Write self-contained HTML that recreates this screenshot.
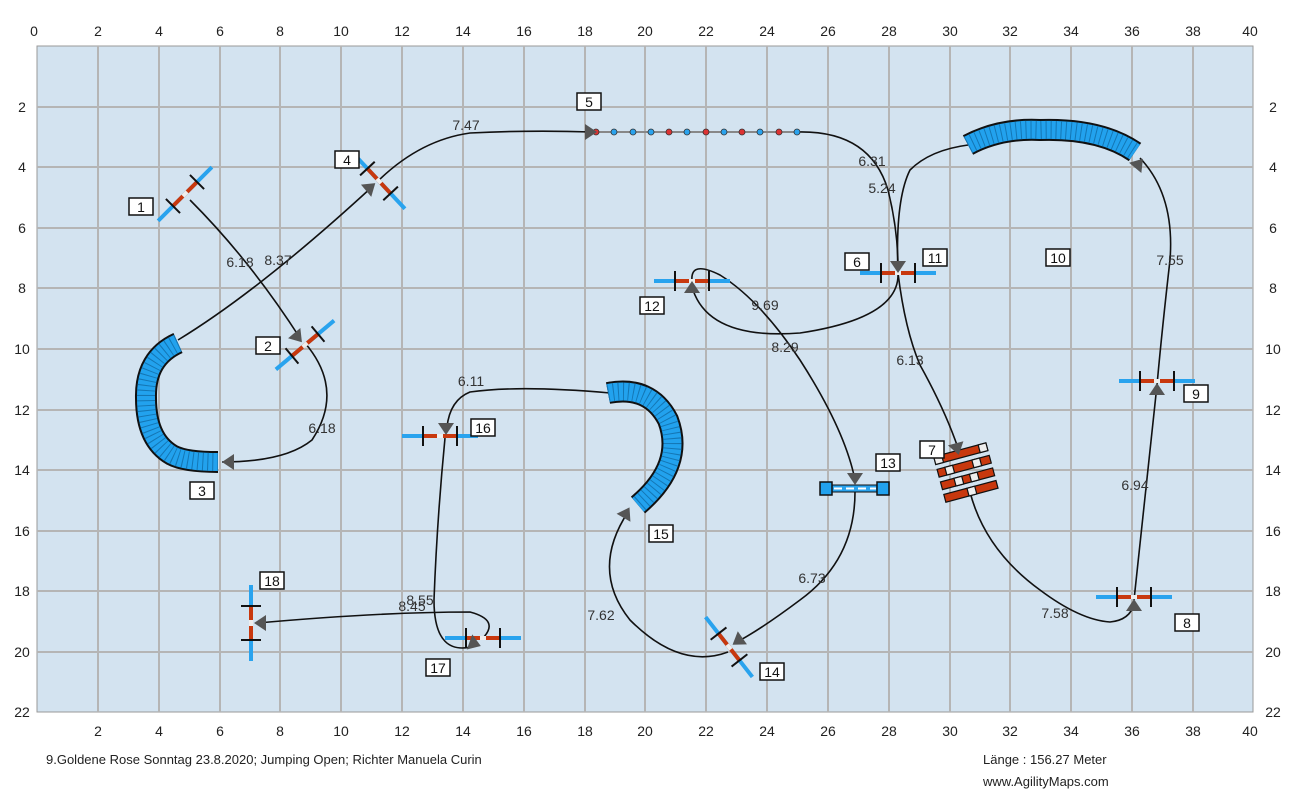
<!DOCTYPE html>
<html><head><meta charset="utf-8"><style>
html,body{margin:0;padding:0;background:#fff;}
svg{display:block;font-family:"Liberation Sans",sans-serif;}
</style></head><body>
<svg width="1300" height="801" viewBox="0 0 1300 801" xmlns="http://www.w3.org/2000/svg">
<defs>
<g id="jmp">
<line x1="-38" y1="0" x2="38" y2="0" stroke="#29a3ee" stroke-width="4"/>
<line x1="-17" y1="0" x2="17" y2="0" stroke="#c8380e" stroke-width="4"/>
<line x1="-3" y1="0" x2="3" y2="0" stroke="#eee" stroke-width="4"/>
<line x1="-17" y1="-10" x2="-17" y2="10" stroke="#111" stroke-width="2"/>
<line x1="17" y1="-10" x2="17" y2="10" stroke="#111" stroke-width="2"/>
</g>
<g id="arr"><polygon points="-8,-9 8,-9 0,3" fill="#555"/></g>
</defs>
<rect x="37" y="46" width="1216" height="666" fill="#d3e3f0" stroke="#999"/>
<g stroke="#b5b5b5" stroke-width="2">
<line x1="98" y1="46" x2="98" y2="712"/><line x1="159" y1="46" x2="159" y2="712"/><line x1="220" y1="46" x2="220" y2="712"/><line x1="280" y1="46" x2="280" y2="712"/><line x1="341" y1="46" x2="341" y2="712"/><line x1="402" y1="46" x2="402" y2="712"/><line x1="463" y1="46" x2="463" y2="712"/><line x1="524" y1="46" x2="524" y2="712"/><line x1="585" y1="46" x2="585" y2="712"/><line x1="645" y1="46" x2="645" y2="712"/><line x1="706" y1="46" x2="706" y2="712"/><line x1="767" y1="46" x2="767" y2="712"/><line x1="828" y1="46" x2="828" y2="712"/><line x1="889" y1="46" x2="889" y2="712"/><line x1="950" y1="46" x2="950" y2="712"/><line x1="1010" y1="46" x2="1010" y2="712"/><line x1="1071" y1="46" x2="1071" y2="712"/><line x1="1132" y1="46" x2="1132" y2="712"/><line x1="1193" y1="46" x2="1193" y2="712"/>
<line x1="37" y1="107" x2="1253" y2="107"/><line x1="37" y1="167" x2="1253" y2="167"/><line x1="37" y1="228" x2="1253" y2="228"/><line x1="37" y1="288" x2="1253" y2="288"/><line x1="37" y1="349" x2="1253" y2="349"/><line x1="37" y1="410" x2="1253" y2="410"/><line x1="37" y1="470" x2="1253" y2="470"/><line x1="37" y1="531" x2="1253" y2="531"/><line x1="37" y1="591" x2="1253" y2="591"/><line x1="37" y1="652" x2="1253" y2="652"/>
</g>
<g font-size="14" fill="#222" text-anchor="middle">
<text x="34" y="36">0</text><text x="98" y="36">2</text><text x="159" y="36">4</text><text x="220" y="36">6</text><text x="280" y="36">8</text><text x="341" y="36">10</text><text x="402" y="36">12</text><text x="463" y="36">14</text><text x="524" y="36">16</text><text x="585" y="36">18</text><text x="645" y="36">20</text><text x="706" y="36">22</text><text x="767" y="36">24</text><text x="828" y="36">26</text><text x="889" y="36">28</text><text x="950" y="36">30</text><text x="1010" y="36">32</text><text x="1071" y="36">34</text><text x="1132" y="36">36</text><text x="1193" y="36">38</text><text x="1250" y="36">40</text>
<text x="98" y="736">2</text><text x="159" y="736">4</text><text x="220" y="736">6</text><text x="280" y="736">8</text><text x="341" y="736">10</text><text x="402" y="736">12</text><text x="463" y="736">14</text><text x="524" y="736">16</text><text x="585" y="736">18</text><text x="645" y="736">20</text><text x="706" y="736">22</text><text x="767" y="736">24</text><text x="828" y="736">26</text><text x="889" y="736">28</text><text x="950" y="736">30</text><text x="1010" y="736">32</text><text x="1071" y="736">34</text><text x="1132" y="736">36</text><text x="1193" y="736">38</text><text x="1250" y="736">40</text>
<text x="22" y="112">2</text><text x="22" y="172">4</text><text x="22" y="233">6</text><text x="22" y="293">8</text><text x="22" y="354">10</text><text x="22" y="415">12</text><text x="22" y="475">14</text><text x="22" y="536">16</text><text x="22" y="596">18</text><text x="22" y="657">20</text><text x="22" y="717">22</text>
<text x="1273" y="112">2</text><text x="1273" y="172">4</text><text x="1273" y="233">6</text><text x="1273" y="293">8</text><text x="1273" y="354">10</text><text x="1273" y="415">12</text><text x="1273" y="475">14</text><text x="1273" y="536">16</text><text x="1273" y="596">18</text><text x="1273" y="657">20</text><text x="1273" y="717">22</text>
</g>
<!-- paths -->
<g fill="none" stroke="#111" stroke-width="1.6">
<path d="M190,200 Q250,260 300,338"/>
<path d="M305,343 Q345,390 312,440 Q285,462 222,462"/>
<path d="M178,340 Q260,290 373,186"/>
<path d="M378,181 Q420,140 470,133 Q530,130 592,132"/>
<path d="M797,132 Q870,130 888,190 Q898,230 898,268"/>
<path d="M898,273 Q900,318 800,333 Q710,340 693,290"/>
<path d="M692,281 Q690,260 720,275 Q760,300 800,360 Q845,430 855,480"/>
<path d="M855,492 Q855,560 800,600 Q760,630 735,643"/>
<path d="M728,652 Q680,670 630,620 Q590,570 628,512"/>
<path d="M610,393 Q520,385 470,392 Q450,400 447,427"/>
<path d="M445,438 Q437,520 434,600 Q434,660 478,645"/>
<path d="M483,638 Q500,620 470,612 Q380,612 258,623"/>
<path d="M898,273 Q895,200 910,170 Q930,150 968,145"/>
<path d="M1140,158 Q1175,195 1170,260 Q1162,330 1157,385"/>
<path d="M1157,385 Q1145,500 1134,600"/>
<path d="M898,273 Q905,330 920,365 Q945,410 958,448"/>
<path d="M970,492 Q985,550 1040,590 Q1080,620 1110,622 Q1130,620 1134,604"/>
</g>
<!-- tunnels -->
<g fill="none">
<path d="M178,343 Q145,358 146,398 Q146,440 172,455 Q185,462 218,462" stroke="#111" stroke-width="22"/>
<path d="M178,343 Q145,358 146,398 Q146,440 172,455 Q185,462 218,462" stroke="#22a2ee" stroke-width="18"/>
<path d="M178,343 Q145,358 146,398 Q146,440 172,455 Q185,462 218,462" stroke="#1476b4" stroke-width="18" stroke-dasharray="1 4"/>
<path d="M968,145 Q1000,128 1040,130 Q1100,128 1135,152" stroke="#111" stroke-width="22"/>
<path d="M968,145 Q1000,128 1040,130 Q1100,128 1135,152" stroke="#22a2ee" stroke-width="18"/>
<path d="M968,145 Q1000,128 1040,130 Q1100,128 1135,152" stroke="#1476b4" stroke-width="18" stroke-dasharray="1 4"/>
<path d="M608,393 Q650,385 668,420 Q685,465 638,505" stroke="#111" stroke-width="22"/>
<path d="M608,393 Q650,385 668,420 Q685,465 638,505" stroke="#22a2ee" stroke-width="18"/>
<path d="M608,393 Q650,385 668,420 Q685,465 638,505" stroke="#1476b4" stroke-width="18" stroke-dasharray="1 4"/>
</g>
<!-- weave poles -->
<line x1="596" y1="132" x2="797" y2="132" stroke="#888" stroke-width="2"/>
<g stroke="#333" stroke-width="0.8">
<circle cx="596" cy="132" r="3" fill="#d33"/><circle cx="614" cy="132" r="3" fill="#2aa3ee"/><circle cx="633" cy="132" r="3" fill="#2aa3ee"/><circle cx="651" cy="132" r="3" fill="#2aa3ee"/><circle cx="669" cy="132" r="3" fill="#d33"/><circle cx="687" cy="132" r="3" fill="#2aa3ee"/><circle cx="706" cy="132" r="3" fill="#d33"/><circle cx="724" cy="132" r="3" fill="#2aa3ee"/><circle cx="742" cy="132" r="3" fill="#d33"/><circle cx="760" cy="132" r="3" fill="#2aa3ee"/><circle cx="779" cy="132" r="3" fill="#d33"/><circle cx="797" cy="132" r="3" fill="#2aa3ee"/>
</g>
<!-- jumps -->
<use href="#jmp" transform="translate(185,194) rotate(-45)"/>
<use href="#jmp" transform="translate(379,181) rotate(47)"/>
<use href="#jmp" transform="translate(305,345) rotate(-40)"/>
<use href="#jmp" transform="translate(898,273)"/>
<use href="#jmp" transform="translate(692,281)"/>
<use href="#jmp" transform="translate(440,436)"/>
<use href="#jmp" transform="translate(483,638)"/>
<use href="#jmp" transform="translate(1157,381)"/>
<use href="#jmp" transform="translate(1134,597)"/>
<use href="#jmp" transform="translate(729,647) rotate(52)"/>
<use href="#jmp" transform="translate(251,623) rotate(90)"/>
<!-- tire 13 -->
<rect x="826" y="485" width="58" height="7" fill="#29a3ee" stroke="#111"/>
<line x1="834" y1="488.5" x2="876" y2="488.5" stroke="#fff" stroke-width="2" stroke-dasharray="8 4"/>
<rect x="820" y="482" width="12" height="13" fill="#22a2ee" stroke="#111" stroke-width="1.5"/>
<rect x="877" y="482" width="12" height="13" fill="#22a2ee" stroke="#111" stroke-width="1.5"/>
<!-- wall 7 -->
<g transform="translate(966,473) rotate(-15)" stroke="#111" stroke-width="1.2">
<rect x="-27" y="-24" width="54" height="8" fill="#c8380e"/><rect x="-27" y="-24" width="8" height="8" fill="#eee"/><rect x="19" y="-24" width="8" height="8" fill="#eee"/>
<rect x="-27" y="-11" width="54" height="8" fill="#c8380e"/><rect x="-19" y="-11" width="8" height="8" fill="#eee"/><rect x="9" y="-11" width="8" height="8" fill="#eee"/>
<rect x="-27" y="2" width="54" height="8" fill="#c8380e"/><rect x="-13" y="2" width="8" height="8" fill="#eee"/><rect x="3" y="2" width="8" height="8" fill="#eee"/>
<rect x="-27" y="15" width="54" height="8" fill="#c8380e"/><rect x="-3" y="15" width="8" height="8" fill="#eee"/>
</g>
<!-- arrows -->
<use href="#arr" transform="translate(300,340) rotate(-40)"/>
<use href="#arr" transform="translate(225,462) rotate(90)"/>
<use href="#arr" transform="translate(373,185) rotate(-130)"/>
<use href="#arr" transform="translate(594,132) rotate(-90)"/>
<use href="#arr" transform="translate(898,270)"/>
<use href="#arr" transform="translate(692,284) rotate(180)"/>
<use href="#arr" transform="translate(855,482)"/>
<use href="#arr" transform="translate(735,643) rotate(55)"/>
<use href="#arr" transform="translate(628,510) rotate(-150)"/>
<use href="#arr" transform="translate(446,432)"/>
<use href="#arr" transform="translate(478,645) rotate(-70)"/>
<use href="#arr" transform="translate(257,623) rotate(90)"/>
<use href="#arr" transform="translate(1141,161) rotate(-140)"/>
<use href="#arr" transform="translate(1157,386) rotate(180)"/>
<use href="#arr" transform="translate(1134,602) rotate(180)"/>
<use href="#arr" transform="translate(958,452) rotate(-15)"/>
<!-- distance labels -->
<g font-size="14" fill="#333" text-anchor="middle">
<text x="240" y="267">6.18</text><text x="278" y="265">8.37</text><text x="322" y="433">6.18</text>
<text x="466" y="130">7.47</text><text x="872" y="166">6.31</text><text x="882" y="193">5.24</text>
<text x="765" y="310">9.69</text><text x="785" y="352">8.29</text><text x="910" y="365">6.13</text>
<text x="1170" y="265">7.55</text><text x="1135" y="490">6.94</text><text x="1055" y="618">7.58</text>
<text x="812" y="583">6.73</text><text x="601" y="620">7.62</text><text x="471" y="386">6.11</text>
<text x="420" y="605">8.55</text><text x="412" y="611">8.45</text>
</g>
<!-- number boxes -->
<g font-size="14" fill="#111" text-anchor="middle">
<g fill="#fff" stroke="#111" stroke-width="1.5">
<rect x="129" y="198" width="24" height="17"/><rect x="256" y="337" width="24" height="17"/><rect x="190" y="482" width="24" height="17"/>
<rect x="335" y="151" width="24" height="17"/><rect x="577" y="93" width="24" height="17"/><rect x="845" y="253" width="24" height="17"/>
<rect x="923" y="249" width="24" height="17"/><rect x="1046" y="249" width="24" height="17"/><rect x="640" y="297" width="24" height="17"/>
<rect x="876" y="454" width="24" height="17"/><rect x="920" y="441" width="24" height="17"/><rect x="1184" y="385" width="24" height="17"/>
<rect x="1175" y="614" width="24" height="17"/><rect x="760" y="663" width="24" height="17"/><rect x="649" y="525" width="24" height="17"/>
<rect x="471" y="419" width="24" height="17"/><rect x="426" y="659" width="24" height="17"/><rect x="260" y="572" width="24" height="17"/>
</g>
<text x="141" y="212">1</text><text x="268" y="351">2</text><text x="202" y="496">3</text>
<text x="347" y="165">4</text><text x="589" y="107">5</text><text x="857" y="267">6</text>
<text x="935" y="263">11</text><text x="1058" y="263">10</text><text x="652" y="311">12</text>
<text x="888" y="468">13</text><text x="932" y="455">7</text><text x="1196" y="399">9</text>
<text x="1187" y="628">8</text><text x="772" y="677">14</text><text x="661" y="539">15</text>
<text x="483" y="433">16</text><text x="438" y="673">17</text><text x="272" y="586">18</text>
</g>
<g font-size="13" fill="#222">
<text x="46" y="764">9.Goldene Rose Sonntag 23.8.2020; Jumping Open; Richter Manuela Curin</text>
<text x="983" y="764">Länge : 156.27 Meter</text>
<text x="983" y="786">www.AgilityMaps.com</text>
</g>
</svg>
</body></html>
